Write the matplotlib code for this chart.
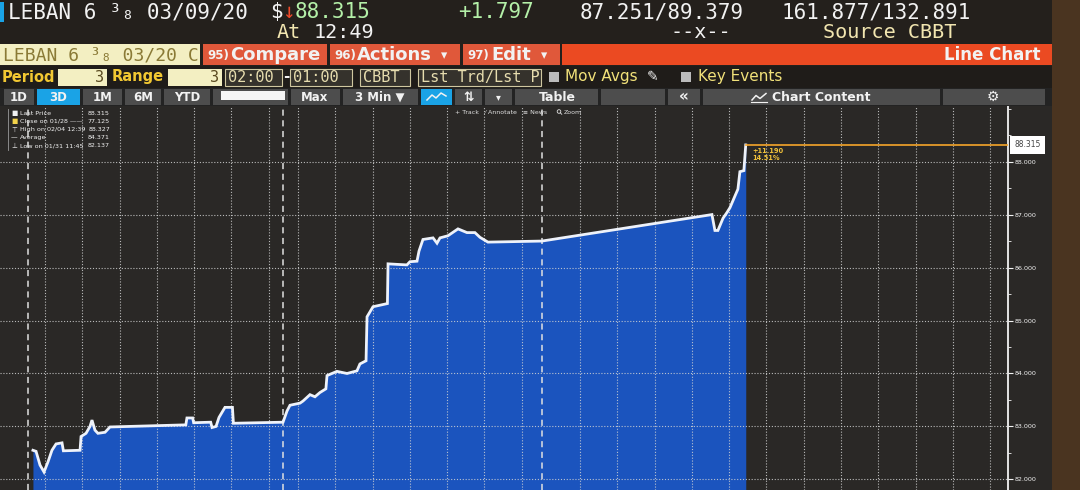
import matplotlib
matplotlib.use("Agg")
import matplotlib.pyplot as plt
from matplotlib.patches import Rectangle, Circle
from matplotlib.ticker import FixedLocator, MultipleLocator, FuncFormatter

# ---------------- data ----------------
security = "LEBAN 6 ³₈ 03/09/20"
security_short = "LEBAN 6 ³₈ 03/20 C"
last_price = 88.315
net_change = 1.797
bid_ask = "87.251/89.379"
yield_pair = "161.877/132.891"
quote_time = "12:49"
price_source = "CBBT"
prev_close = 77.125

legend_labels = ["Last Price", "Close on 01/28", "High on 02/04 12:39", "Average", "Low on 01/31 11:45"]
legend_values = [88.315, 77.125, 88.327, 84.371, 82.137]

# session time (hours, compressed intraday axis) and price
times_h = [2.65, 2.90, 3.22, 3.54, 3.86, 4.18, 4.51, 4.99, 5.10, 6.44, 6.52, 6.92,
           7.24, 7.40, 7.64, 7.88, 8.45, 8.85, 14.95, 15.04, 15.50, 15.58, 16.95,
           17.06, 17.38, 17.62, 18.10, 18.70, 18.78, 22.77, 23.09, 23.33, 24.14,
           24.38, 24.94, 25.34, 25.74, 26.22, 26.31, 27.11, 27.92, 28.72, 28.96,
           29.45, 29.53, 30.01, 31.17, 31.22, 31.94, 32.74, 32.98, 33.55, 33.71,
           34.03, 34.84, 35.16, 35.40, 36.04, 36.85, 37.57, 38.21, 38.62, 39.26,
           43.60, 57.28, 57.52, 57.76, 58.17, 58.49, 58.73, 59.13, 59.37, 59.53,
           59.85, 60.00]
prices = [82.55, 82.53, 82.27, 82.14, 82.33, 82.55, 82.67, 82.69, 82.54, 82.55, 82.81, 82.87,
          83.00, 83.12, 82.93, 82.87, 82.89, 82.99, 83.03, 83.16, 83.16, 83.07, 83.08,
          82.98, 83.00, 83.17, 83.36, 83.36, 83.06, 83.08, 83.29, 83.40, 83.44,
          83.48, 83.60, 83.56, 83.64, 83.71, 83.96, 84.04, 84.00, 84.05, 84.18,
          84.24, 85.07, 85.26, 85.32, 86.07, 86.06, 86.05, 86.11, 86.12, 86.31,
          86.53, 86.56, 86.46, 86.56, 86.60, 86.73, 86.66, 86.66, 86.57, 86.48,
          86.50, 87.00, 86.70, 86.70, 86.93, 87.04, 87.13, 87.35, 87.48, 87.81,
          87.83, 88.315]

session_starts = [2.25, 22.77, 43.60]
first_gridline = [3.62, 23.97, 46.66]
grid_step_h = 3.0
price_ticks = [82, 83, 84, 85, 86, 87, 88]
x_range = (0.0, 81.1)
y_range = (81.80, 89.05)

# ---------------- colours ----------------
BG = "#2a2826"
HEAD = "#24201c"
BLUE = "#1b54be"
WHITE = "#f2f2f2"
GREEN = "#b4f0a8"
CREAM = "#f3efc2"
RED_BTN = "#e0583a"
RED_BAR = "#eb4a22"
GRAY_BTN = "#4d4d4d"
CYAN = "#1aa3e6"
ORANGE = "#f5a52a"
BEZEL = "#4a3420"

W, H = 1080, 490
fig = plt.figure(figsize=(W / 100, H / 100), dpi=100)
fig.patch.set_facecolor(BG)

# ---------------- chart ----------------
chart_top = 106
ax = fig.add_axes([0, 0, 1008 / W, (H - chart_top) / H])
ax.set_facecolor(BG)
ax.set_xlim(*x_range)
ax.set_ylim(*y_range)

ax.fill_between(times_h, prices, y_range[0], color=BLUE, lw=0, zorder=1)
ax.plot(times_h, prices, color="#eef2fa", lw=2.0, zorder=4, solid_joinstyle="miter")

# horizontal grid
for v in price_ticks:
    ax.axhline(v, color="#d4d4d4", lw=0.8, ls=(0, (1, 1.6)), alpha=0.85, zorder=2)
# vertical grid per session
bounds = session_starts[1:] + [x_range[1]]
for g0, end in zip(first_gridline, bounds):
    g = g0
    while g < end - 0.3:
        ax.axvline(g, color="#d4d4d4", lw=0.8, ls=(0, (1, 1.6)), alpha=0.85, zorder=2)
        g += grid_step_h
for s in session_starts:
    ax.axvline(s, color="#e0e0e0", lw=1.1, ls=(0, (4, 3)), zorder=2)

# last price line + change annotation
ax.plot([times_h[-1], x_range[1]], [last_price, last_price], color=ORANGE, lw=1.2, zorder=5)
chg = last_price - prev_close
pct = chg / prev_close * 100
ax.text(times_h[-1] + 0.55, last_price - 0.05, f"+{chg:.3f}\n{pct:.2f}%", color="#f2c23a",
        fontsize=4.8, fontweight="bold", va="top", ha="left", linespacing=1.2, zorder=6)
ax.text(1.006, last_price, f"{last_price:.3f}", transform=ax.get_yaxis_transform(),
        fontsize=5.5, color="#444444", va="center", ha="left", clip_on=False,
        bbox=dict(boxstyle="square,pad=0.55", fc="white", ec="none"))

# right axis
for sp in ["left", "top", "bottom"]:
    ax.spines[sp].set_visible(False)
ax.spines["right"].set_color(WHITE)
ax.spines["right"].set_linewidth(1.3)
ax.yaxis.tick_right()
ax.yaxis.set_major_locator(FixedLocator(price_ticks))
ax.yaxis.set_minor_locator(MultipleLocator(0.5))
ax.yaxis.set_major_formatter(FuncFormatter(lambda v, p: f"{v:.3f}"))
ax.tick_params(axis="y", which="major", colors=WHITE, labelsize=4.6, length=3.5, width=0.8, pad=1)
ax.tick_params(axis="y", which="minor", colors=WHITE, length=1.8, width=0.6)
ax.set_xticks([])

# ---------------- overlay (header / UI) ----------------
ov = fig.add_axes([0, 0, 1, 1], zorder=10)
ov.set_xlim(0, W)
ov.set_ylim(H, 0)
ov.axis("off")
ov.patch.set_alpha(0)


def rect(x0, y0, x1, y1, fc, ec="none", lw=0.8, z=1):
    ov.add_patch(Rectangle((x0, y0), x1 - x0, y1 - y0, fc=fc, ec=ec, lw=lw, zorder=z))


def txt(x, y, s, size, color=WHITE, ha="left", weight="normal", fam="DejaVu Sans", **kw):
    ov.text(x, y, s, fontsize=size, color=color, ha=ha, va="center", fontweight=weight,
            family=fam, zorder=5, **kw)


MONO = "DejaVu Sans Mono"

# rows 1-2
rect(0, 0, W, 43, HEAD)
rect(0, 2, 4, 22, CYAN)
txt(8, 12, security, 15, WHITE, fam=MONO)
txt(270, 12, "$", 15, WHITE, fam=MONO)
txt(282, 12, "↓", 15, "#f04a2a", fam=MONO)
txt(295, 12, f"{last_price:.3f}", 15, GREEN, fam=MONO)
txt(458, 12, f"+{net_change:.3f}", 15, GREEN, fam=MONO)
txt(580, 12, bid_ask, 15, WHITE, fam=MONO)
txt(782, 12, yield_pair, 15, WHITE, fam=MONO)
txt(277, 33, "At", 14.5, "#f2e6b0", fam=MONO)
txt(314, 33, quote_time, 14.5, WHITE, fam=MONO)
txt(670, 33, "--x--", 14.5, WHITE, fam=MONO)
txt(823, 33, f"Source {price_source}", 14.5, "#f2e6b0", fam=MONO)

# row 3
rect(0, 43, W, 66, HEAD)
rect(0, 44, 200, 65, CREAM)
txt(3, 55, security_short, 13, "#8a7a36", fam=MONO)
rect(203, 44, 327, 65, RED_BTN)
rect(330, 44, 460, 65, RED_BTN)
rect(463, 44, 560, 65, RED_BTN)
rect(562, 44, 1052, 65, RED_BAR)
txt(207, 55, "95)", 8.5, WHITE, weight="bold")
txt(230, 55, "Compare", 13, WHITE, weight="bold")
txt(334, 55, "96)", 8.5, WHITE, weight="bold")
txt(357, 55, "Actions", 13, WHITE, weight="bold")
txt(441, 56, "▾", 9, WHITE)
txt(467, 55, "97)", 8.5, WHITE, weight="bold")
txt(491, 55, "Edit", 13, WHITE, weight="bold")
txt(541, 56, "▾", 9, WHITE)
txt(1041, 55, "Line Chart", 12, WHITE, ha="right", weight="bold")

# row 4
rect(0, 66, W, 88, "#1f1c19")
txt(2, 77, "Period", 10.5, "#f2c832", weight="bold")
rect(58, 69, 107, 86, CREAM)
txt(104, 77.5, "3", 11, "#5a4a20", ha="right", fam=MONO)
txt(112, 77, "Range", 10.5, "#f2c832", weight="bold")
rect(168, 69, 222, 86, CREAM)
txt(219, 77.5, "3", 11, "#5a4a20", ha="right", fam=MONO)
for (x0, x1, s) in [(225, 282, "02:00"), (290, 352, "01:00"), (360, 410, "CBBT"), (418, 541, "Lst Trd/Lst P")]:
    rect(x0, 69, x1, 86, "#35322c", ec="#cfc7a0", lw=0.8)
    txt(x0 + 3, 77.5, s, 11, "#e6dcae", fam=MONO)
txt(283.5, 77, "-", 11, WHITE, weight="bold")
rect(549, 72, 559, 82, "#bcbcbc")
txt(565, 77, "Mov Avgs", 11, "#f2e27a")
txt(647, 77, "✎", 10, WHITE)
rect(681, 72, 691, 82, "#bcbcbc")
txt(698, 77, "Key Events", 11, "#f2e27a")

# row 5 toolbar
rect(0, 88, 1052, 106, "#232323")
for (x0, x1, s, fc) in [(4, 34, "1D", GRAY_BTN), (37, 80, "3D", CYAN), (83, 122, "1M", GRAY_BTN),
                        (125, 161, "6M", GRAY_BTN), (164, 210, "YTD", GRAY_BTN)]:
    rect(x0, 89, x1, 105, fc)
    txt((x0 + x1) / 2, 97, s, 8.5, WHITE, ha="center", weight="bold")
rect(213, 89, 288, 105, GRAY_BTN)
rect(221, 91, 285, 100, "#f5f5f5")
rect(291, 89, 340, 105, GRAY_BTN)
txt(315, 97, "Max", 8.5, WHITE, ha="center", weight="bold")
rect(343, 89, 418, 105, GRAY_BTN)
txt(380, 97, "3 Min ▼", 8.5, WHITE, ha="center", weight="bold")
rect(421, 89, 452, 105, CYAN)
ov.plot([427, 432, 436, 441, 446], [100, 95, 98, 93, 96], color=WHITE, lw=1.1, zorder=6)
rect(455, 89, 482, 105, GRAY_BTN)
txt(468.5, 97, "⇅", 9, WHITE, ha="center", weight="bold")
rect(485, 89, 512, 105, GRAY_BTN)
txt(498.5, 97, "▾", 7, WHITE, ha="center")
rect(515, 89, 598, 105, GRAY_BTN)
txt(557, 97, "Table", 9, WHITE, ha="center", weight="bold")
rect(601, 89, 665, 105, GRAY_BTN)
rect(668, 89, 700, 105, GRAY_BTN)
txt(684, 96.5, "«", 11, WHITE, ha="center", weight="bold")
rect(703, 89, 940, 105, GRAY_BTN)
txt(772, 97, "Chart Content", 9, WHITE, ha="left", weight="bold")
ov.plot([752, 756, 760, 766], [100, 95.5, 98.5, 93.5], color=WHITE, lw=1.1, zorder=6)
ov.plot([751, 767], [102.5, 102.5], color=WHITE, lw=0.8, zorder=6)
rect(943, 89, 1045, 105, GRAY_BTN)
txt(993, 97, "⚙", 10, WHITE, ha="center")

# chart sub-toolbar text (magnifier drawn as a shape)
txt(455, 112, "+ Track   ⁄ Annotate   ≡ News", 4.5, "#e0e0e0")
ov.add_patch(Circle((559, 111.5), 1.8, fc="none", ec="#e0e0e0", lw=0.6, zorder=6))
ov.plot([560.3, 561.8], [112.8, 114.3], color="#e0e0e0", lw=0.6, zorder=6)
txt(564, 112, "Zoom", 4.5, "#e0e0e0")

# legend box
leg_icons = ["■", "■", "⊤", "—", "⊥"]
leg_icon_col = [WHITE, "#f2d24a", WHITE, WHITE, WHITE]
for i, (lab, val) in enumerate(zip(legend_labels, legend_values)):
    y = 113 + i * 8.2
    txt(11, y, leg_icons[i], 4.8, leg_icon_col[i])
    extra = " ——" if i == 1 else ""
    txt(20, y, lab + extra, 4.6, WHITE)
    txt(110, y, f"{val:.3f}", 4.6, WHITE, ha="right")
ov.plot([8, 8], [109, 150], color="#9a9a9a", lw=0.6, zorder=6)

# monitor bezel
rect(1052, 0, W, H, BEZEL, z=8)

fig.savefig("out.png", dpi=100, facecolor=fig.get_facecolor())
